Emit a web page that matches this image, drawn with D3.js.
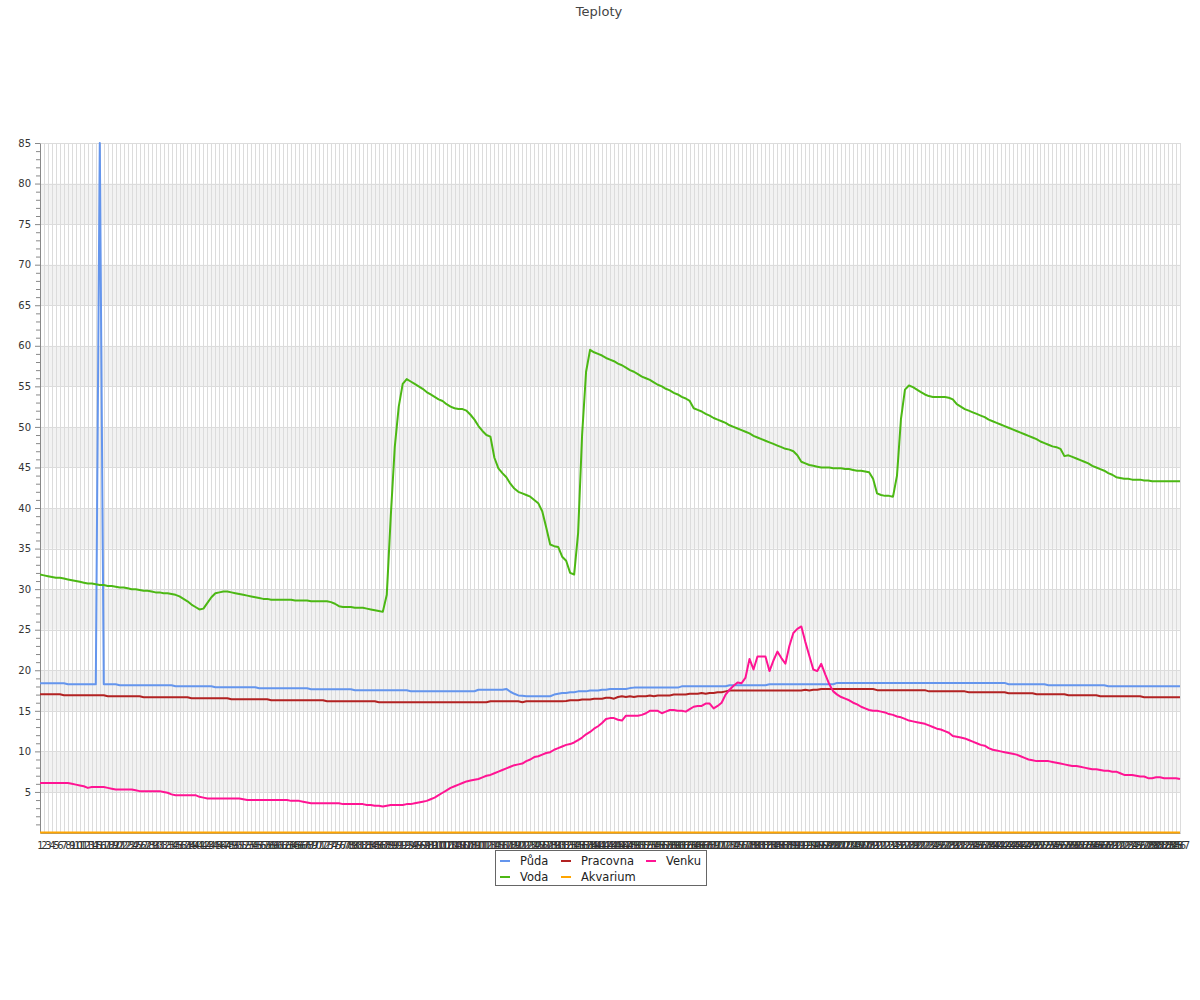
<!DOCTYPE html>
<html><head><meta charset="utf-8">
<script src="https://cdn.jsdelivr.net/npm/d3@7"></script>
<style>body{margin:0;background:#fff}svg{display:block}text{font-family:"DejaVu Sans",sans-serif}</style>
</head><body>
<svg id="chart" width="1200" height="1000"></svg>
<script>
const chartTitle = "Teploty";
const categories = d3.range(1, 288).map(String);
const yTickValues = [5,10,15,20,25,30,35,40,45,50,55,60,65,70,75,80,85];
const seriesNames = ["Půda","Voda","Pracovna","Akvarium","Venku"];
const seriesColors = ["#6495ed","#4cb814","#b22222","#ffa500","#ff1493"];

const puda = [
18.39,18.39,18.39,18.39,18.39,18.39,18.39,18.27,18.27,18.27,
18.27,18.27,18.27,18.27,18.27,85,18.27,18.27,18.27,18.27,
18.15,18.15,18.15,18.15,18.15,18.15,18.15,18.15,18.15,18.15,
18.15,18.15,18.15,18.15,18.02,18.02,18.02,18.02,18.02,18.02,
18.02,18.02,18.02,18.02,17.9,17.9,17.9,17.9,17.9,17.9,
17.9,17.9,17.9,17.9,17.9,17.78,17.78,17.78,17.78,17.78,
17.78,17.78,17.78,17.78,17.78,17.78,17.78,17.78,17.66,17.66,
17.66,17.66,17.66,17.66,17.66,17.66,17.66,17.66,17.66,17.53,
17.53,17.53,17.53,17.53,17.53,17.53,17.53,17.53,17.53,17.53,
17.53,17.53,17.53,17.41,17.41,17.41,17.41,17.41,17.41,17.41,
17.41,17.41,17.41,17.41,17.41,17.41,17.41,17.41,17.41,17.41,
17.6,17.6,17.6,17.6,17.6,17.6,17.6,17.7,17.35,17.1,
16.9,16.85,16.8,16.8,16.8,16.8,16.8,16.8,16.8,17.0,
17.1,17.2,17.2,17.3,17.3,17.4,17.4,17.4,17.5,17.5,
17.5,17.6,17.6,17.7,17.7,17.7,17.7,17.7,17.8,17.86,
17.86,17.86,17.86,17.86,17.86,17.86,17.86,17.86,17.86,17.86,
17.86,18.02,18.02,18.02,18.02,18.02,18.02,18.02,18.02,18.02,
18.02,18.02,18.02,18.15,18.15,18.15,18.15,18.15,18.15,18.15,
18.15,18.15,18.15,18.27,18.27,18.27,18.27,18.27,18.27,18.27,
18.27,18.27,18.27,18.27,18.27,18.27,18.27,18.27,18.27,18.27,
18.44,18.44,18.44,18.44,18.44,18.44,18.44,18.44,18.44,18.44,
18.44,18.44,18.44,18.44,18.44,18.44,18.44,18.44,18.44,18.44,
18.44,18.44,18.44,18.44,18.44,18.44,18.44,18.44,18.44,18.44,
18.44,18.44,18.44,18.44,18.44,18.44,18.44,18.44,18.44,18.44,
18.44,18.44,18.44,18.27,18.27,18.27,18.27,18.27,18.27,18.27,
18.27,18.27,18.27,18.15,18.15,18.15,18.15,18.15,18.15,18.15,
18.15,18.15,18.15,18.15,18.15,18.15,18.15,18.15,18.02,18.02,
18.02,18.02,18.02,18.02,18.02,18.02,18.02,18.02,18.02,18.02,
18.02,18.02,18.02,18.02,18.02,18.02,18.02];

const voda = [
31.8,31.7,31.6,31.5,31.4,31.4,31.3,31.2,31.1,31.0,
30.9,30.8,30.7,30.7,30.6,30.5,30.5,30.4,30.4,30.3,
30.2,30.2,30.1,30.0,30.0,29.9,29.8,29.8,29.7,29.6,
29.6,29.5,29.5,29.4,29.3,29.1,28.8,28.5,28.1,27.8,
27.5,27.6,28.3,29.0,29.5,29.6,29.7,29.7,29.6,29.5,
29.4,29.3,29.2,29.1,29.0,28.9,28.8,28.8,28.7,28.7,
28.7,28.7,28.7,28.7,28.6,28.6,28.6,28.6,28.5,28.5,
28.5,28.5,28.5,28.4,28.2,27.9,27.8,27.8,27.8,27.7,
27.7,27.7,27.6,27.5,27.4,27.3,27.2,29.3,39.0,47.5,
52.5,55.3,55.9,55.6,55.3,55.0,54.7,54.3,54.0,53.7,
53.4,53.2,52.8,52.5,52.3,52.2,52.2,52.0,51.5,50.9,
50.1,49.5,49.0,48.8,46.2,44.9,44.3,43.8,43.0,42.4,
42.0,41.8,41.6,41.4,41.0,40.6,39.6,37.6,35.5,35.3,
35.2,34.0,33.5,32.0,31.8,36.9,49.0,56.8,59.5,59.2,
59.0,58.8,58.5,58.3,58.1,57.8,57.6,57.3,57.0,56.8,
56.5,56.2,56.0,55.8,55.5,55.2,55.0,54.7,54.5,54.2,
54.0,53.7,53.5,53.2,52.3,52.1,51.9,51.6,51.4,51.1,
50.9,50.7,50.5,50.2,50.0,49.8,49.6,49.4,49.2,48.9,
48.7,48.5,48.3,48.1,47.9,47.7,47.5,47.3,47.2,47.0,
46.5,45.7,45.5,45.3,45.2,45.1,45.0,45.0,45.0,44.9,
44.9,44.9,44.8,44.8,44.7,44.6,44.6,44.5,44.4,43.6,
41.8,41.6,41.5,41.5,41.4,44.0,51.0,54.6,55.1,54.9,
54.6,54.3,54.0,53.8,53.7,53.7,53.7,53.7,53.6,53.4,
52.8,52.5,52.2,52.0,51.8,51.6,51.4,51.2,50.9,50.7,
50.5,50.3,50.1,49.9,49.7,49.5,49.3,49.1,48.9,48.7,
48.5,48.2,48.0,47.8,47.6,47.5,47.3,46.4,46.5,46.3,
46.1,45.9,45.7,45.5,45.2,45.0,44.8,44.6,44.3,44.1,
43.8,43.7,43.6,43.6,43.5,43.5,43.5,43.4,43.4,43.3,
43.3,43.3,43.3,43.3,43.3,43.3,43.3];

const pracovna = [
17.04,17.04,17.04,17.04,17.04,17.04,16.91,16.91,16.91,16.91,
16.91,16.91,16.91,16.91,16.91,16.91,16.91,16.79,16.79,16.79,
16.79,16.79,16.79,16.79,16.79,16.79,16.67,16.67,16.67,16.67,
16.67,16.67,16.67,16.67,16.67,16.67,16.67,16.67,16.55,16.55,
16.55,16.55,16.55,16.55,16.55,16.55,16.55,16.55,16.42,16.42,
16.42,16.42,16.42,16.42,16.42,16.42,16.42,16.42,16.3,16.3,
16.3,16.3,16.3,16.3,16.3,16.3,16.3,16.3,16.3,16.3,
16.3,16.3,16.17,16.17,16.17,16.17,16.17,16.17,16.17,16.17,
16.17,16.17,16.17,16.17,16.17,16.05,16.05,16.05,16.05,16.05,
16.05,16.05,16.05,16.05,16.05,16.05,16.05,16.05,16.05,16.05,
16.05,16.05,16.05,16.05,16.05,16.05,16.05,16.05,16.05,16.05,
16.05,16.05,16.05,16.17,16.17,16.17,16.17,16.17,16.17,16.17,
16.17,16.05,16.17,16.17,16.17,16.17,16.17,16.17,16.17,16.17,
16.17,16.17,16.2,16.3,16.3,16.3,16.4,16.4,16.4,16.5,
16.5,16.5,16.6,16.6,16.5,16.7,16.8,16.7,16.8,16.7,
16.8,16.8,16.8,16.9,16.8,16.9,16.9,16.9,16.9,17.0,
17.0,17.0,17.0,17.1,17.1,17.1,17.2,17.1,17.2,17.2,
17.3,17.3,17.4,17.5,17.5,17.5,17.5,17.5,17.5,17.5,
17.5,17.5,17.5,17.5,17.5,17.5,17.5,17.5,17.5,17.5,
17.5,17.5,17.6,17.5,17.6,17.6,17.7,17.7,17.7,17.7,
17.7,17.7,17.7,17.7,17.7,17.7,17.7,17.7,17.7,17.7,
17.55,17.55,17.55,17.55,17.55,17.55,17.55,17.55,17.55,17.55,
17.55,17.55,17.55,17.4,17.4,17.4,17.4,17.4,17.4,17.4,
17.4,17.4,17.4,17.28,17.28,17.28,17.28,17.28,17.28,17.28,
17.28,17.28,17.28,17.16,17.16,17.16,17.16,17.16,17.16,17.16,
17.04,17.04,17.04,17.04,17.04,17.04,17.04,17.04,16.91,16.91,
16.91,16.91,16.91,16.91,16.91,16.91,16.79,16.79,16.79,16.79,
16.79,16.79,16.79,16.79,16.79,16.79,16.79,16.67,16.67,16.67,
16.67,16.67,16.67,16.67,16.67,16.67,16.67];

const akvarium = [
0,0,0,0,0,0,0,0,0,0, 0,0,0,0,0,0,0,0,0,0, 0,0,0,0,0,0,0,0,0,0,
0,0,0,0,0,0,0,0,0,0, 0,0,0,0,0,0,0,0,0,0, 0,0,0,0,0,0,0,0,0,0,
0,0,0,0,0,0,0,0,0,0, 0,0,0,0,0,0,0,0,0,0, 0,0,0,0,0,0,0,0,0,0,
0,0,0,0,0,0,0,0,0,0, 0,0,0,0,0,0,0,0,0,0, 0,0,0,0,0,0,0,0,0,0,
0,0,0,0,0,0,0,0,0,0, 0,0,0,0,0,0,0,0,0,0, 0,0,0,0,0,0,0,0,0,0,
0,0,0,0,0,0,0,0,0,0, 0,0,0,0,0,0,0,0,0,0, 0,0,0,0,0,0,0,0,0,0,
0,0,0,0,0,0,0,0,0,0, 0,0,0,0,0,0,0,0,0,0, 0,0,0,0,0,0,0,0,0,0,
0,0,0,0,0,0,0,0,0,0, 0,0,0,0,0,0,0,0,0,0, 0,0,0,0,0,0,0,0,0,0,
0,0,0,0,0,0,0,0,0,0, 0,0,0,0,0,0,0,0,0,0, 0,0,0,0,0,0,0,0,0,0,
0,0,0,0,0,0,0,0,0,0, 0,0,0,0,0,0,0];

const venku = [
6.1,6.1,6.1,6.1,6.1,6.1,6.1,6.1,6.0,5.9,
5.8,5.7,5.5,5.6,5.6,5.6,5.6,5.5,5.4,5.3,
5.3,5.3,5.3,5.3,5.2,5.1,5.1,5.1,5.1,5.1,
5.1,5.0,4.9,4.7,4.6,4.6,4.6,4.6,4.6,4.6,
4.4,4.3,4.2,4.2,4.2,4.2,4.2,4.2,4.2,4.2,
4.2,4.1,4.0,4.0,4.0,4.0,4.0,4.0,4.0,4.0,
4.0,4.0,4.0,3.9,3.9,3.9,3.8,3.7,3.6,3.6,
3.6,3.6,3.6,3.6,3.6,3.6,3.5,3.5,3.5,3.5,
3.5,3.5,3.4,3.4,3.3,3.3,3.2,3.3,3.4,3.4,
3.4,3.4,3.5,3.5,3.6,3.7,3.8,3.9,4.1,4.3,
4.6,4.9,5.2,5.5,5.7,5.9,6.1,6.3,6.4,6.5,
6.6,6.8,7.0,7.1,7.3,7.5,7.7,7.9,8.1,8.3,
8.4,8.5,8.8,9.0,9.3,9.4,9.6,9.8,9.9,10.2,
10.4,10.6,10.8,10.9,11.1,11.4,11.7,12.1,12.4,12.8,
13.1,13.5,14.0,14.1,14.1,13.9,13.8,14.4,14.4,14.4,
14.4,14.5,14.7,15.0,15.0,15.0,14.7,14.9,15.1,15.1,
15.0,15.0,14.9,15.2,15.5,15.6,15.6,15.9,15.9,15.3,
15.6,16.0,17.0,17.6,18.1,18.5,18.4,19.1,21.4,20.1,
21.7,21.7,21.7,19.9,21.2,22.3,21.5,20.8,23.0,24.6,
25.1,25.4,23.5,21.8,20.1,19.9,20.8,19.5,18.3,17.4,
17.0,16.7,16.5,16.3,16.0,15.8,15.5,15.3,15.1,15.0,
15.0,14.9,14.8,14.6,14.5,14.3,14.2,14.0,13.8,13.7,
13.6,13.5,13.4,13.2,13.0,12.8,12.7,12.5,12.3,11.9,
11.8,11.7,11.6,11.4,11.2,11.0,10.8,10.7,10.4,10.2,
10.1,10.0,9.9,9.8,9.7,9.6,9.4,9.2,9.0,8.9,
8.8,8.8,8.8,8.8,8.7,8.6,8.5,8.4,8.3,8.2,
8.2,8.1,8.0,7.9,7.8,7.8,7.7,7.6,7.6,7.5,
7.5,7.3,7.1,7.1,7.1,7.0,6.9,6.9,6.7,6.7,
6.8,6.8,6.7,6.7,6.7,6.7,6.6];

const seriesValues = [puda, voda, pracovna, akvarium, venku];

const svg = d3.select("#chart");
const plotLeft = 40, plotRight = 1180, plotTop = 143, plotBottom = 833;
const x = d3.scalePoint().domain(categories).range([plotLeft, plotRight]);
const y = d3.scaleLinear().domain([0, 85]).range([plotBottom - 0.5, plotTop]);

// title
svg.append("text").attr("x", 599).attr("y", 16).attr("text-anchor", "middle")
  .attr("font-size", 13).attr("fill", "#444").text(chartTitle);

// alternating bands
const bandStarts = yTickValues.filter(v => v % 10 === 5 && v < 85);
svg.append("g").selectAll("rect").data(bandStarts).join("rect")
  .attr("x", plotLeft).attr("width", plotRight - plotLeft)
  .attr("y", d => y(d + 5)).attr("height", d => y(d) - y(d + 5))
  .attr("fill", "#f2f2f2");

// vertical grid
svg.append("g").selectAll("line").data(categories.slice(1)).join("line")
  .attr("x1", d => Math.round(x(d)) + 0.5).attr("x2", d => Math.round(x(d)) + 0.5)
  .attr("y1", plotTop).attr("y2", plotBottom)
  .attr("stroke", "#dcdcdc").attr("stroke-width", 1);

// horizontal grid
svg.append("g").selectAll("line").data(yTickValues).join("line")
  .attr("x1", plotLeft).attr("x2", plotRight)
  .attr("y1", d => Math.round(y(d)) + 0.5).attr("y2", d => Math.round(y(d)) + 0.5)
  .attr("stroke", "#dcdcdc");

// x axis
const xAxis = svg.append("g").attr("transform", `translate(0,${plotBottom})`)
  .call(d3.axisBottom(x).tickSize(0).tickPadding(9).tickSizeOuter(0));
xAxis.select(".domain").attr("stroke", "#999");
xAxis.selectAll("text").attr("font-size", 10).attr("fill", "#333")
  .style("font-family", "DejaVu Sans");

// y axis minor
const minorVals = d3.range(1, 85).filter(v => v % 5 !== 0);
const yMinor = svg.append("g").attr("transform", `translate(${plotLeft},0)`)
  .call(d3.axisLeft(y).tickValues(minorVals).tickSize(4).tickFormat("").tickSizeOuter(0));
yMinor.select(".domain").remove();
yMinor.selectAll("line").attr("stroke", "#888");

const yAxis = svg.append("g").attr("transform", `translate(${plotLeft},0)`)
  .call(d3.axisLeft(y).tickValues(yTickValues).tickSize(5).tickPadding(4).tickSizeOuter(0));
yAxis.select(".domain").attr("stroke", "#888");
yAxis.selectAll("line").attr("stroke", "#888");
yAxis.selectAll("text").attr("font-size", 10).attr("fill", "#333")
  .style("font-family", "DejaVu Sans");

// lines
const line = d3.line().x((d, i) => x(categories[i])).y(d => y(d));
svg.append("g").selectAll("path").data(seriesValues).join("path")
  .attr("d", d => line(d)).attr("fill", "none")
  .attr("stroke", (d, i) => seriesColors[i]).attr("stroke-width", 2)
  .attr("stroke-linejoin", "round");

// legend
const lg = svg.append("g");
lg.append("rect").attr("x", 495.5).attr("y", 850.5).attr("width", 211).attr("height", 35)
  .attr("fill", "#fff").attr("stroke", "#666");
const colX = [500, 561, 646], rowY = [861, 877];
seriesNames.forEach((name, i) => {
  const cx = colX[Math.floor(i / 2)], cy = rowY[i % 2];
  lg.append("line").attr("x1", cx).attr("x2", cx + 10).attr("y1", cy).attr("y2", cy)
    .attr("stroke", seriesColors[i]).attr("stroke-width", 2);
  lg.append("text").attr("x", cx + 20).attr("y", cy + 4).attr("font-size", 11.5)
    .attr("fill", "#222").text(name);
});
</script>
</body></html>
